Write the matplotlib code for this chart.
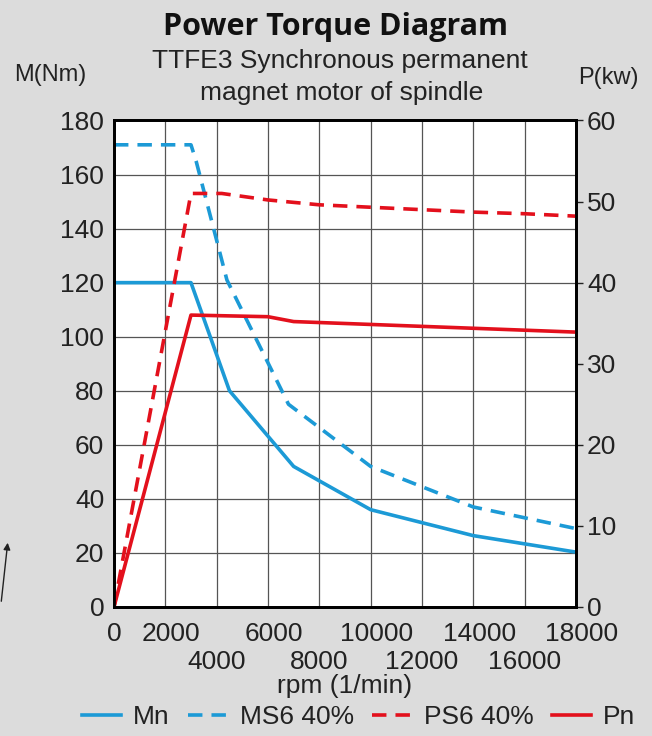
import matplotlib
matplotlib.use("Agg")
import matplotlib.pyplot as plt
from matplotlib.ticker import FixedLocator
from matplotlib.transforms import ScaledTranslation

plt.rcParams['font.family'] = ['Liberation Sans', 'DejaVu Sans']

# torque curves (Nm, left axis)
mn_rpm = [0, 3000, 4500, 7000, 10000, 14000, 18000]
mn_nm = [120, 120, 80, 52, 36, 26.4, 20.3]
ms6_rpm = [0, 3000, 3200, 4400, 6800, 10000, 14000, 18000]
ms6_nm = [171, 171, 165, 121, 75, 52, 37, 29]

# power curves (kW, right axis)
ps6_rpm = [0, 3000, 4200, 6000, 8000, 10000, 12000, 14000, 16000, 18000]
ps6_kw = [0, 51, 51, 50.2, 49.6, 49.3, 49.0, 48.7, 48.5, 48.2]
pn_rpm = [0, 3000, 6000, 7000, 18000]
pn_kw = [0, 36, 35.8, 35.2, 33.9]

# rpm labels are staggered on two rows
x_ticks_top = [0, 2000, 6000, 10000, 14000, 18000]
x_ticks_low = [4000, 8000, 12000, 16000]
m_ticks = list(range(0, 181, 20))
p_ticks = list(range(0, 61, 10))

blue = '#1c9ad6'
red = '#e3101c'
bg = '#dcdcdc'
txt = '#222222'

fig = plt.figure(figsize=(6.52, 7.36), dpi=100, facecolor=bg)
ax = fig.add_axes([0.1748, 0.1753, 0.7086, 0.661])
ax.set_facecolor('white')

l_mn, = ax.plot(mn_rpm, mn_nm, color=blue, lw=2.6, label='Mn')
l_ms6, = ax.plot(ms6_rpm, ms6_nm, color=blue, lw=2.6, ls=(0, (4, 2.5)), label='MS6 40%')
ax.set_xlim(0, 18000)
ax.set_ylim(0, 180)
ax.xaxis.set_major_locator(FixedLocator(x_ticks_top))
ax.xaxis.set_minor_locator(FixedLocator(x_ticks_low))
ax.set_xticklabels([str(v) for v in x_ticks_top])
ax.set_xticklabels([str(v) for v in x_ticks_low], minor=True)
ax.yaxis.set_major_locator(FixedLocator(m_ticks))
ax.grid(True, which='both', color='#555555', lw=0.9)
ax.tick_params(axis='both', which='both', length=0, labelsize=19, colors=txt, pad=7)
ax.tick_params(axis='x', which='major', pad=11)
ax.tick_params(axis='x', which='minor', pad=31)

# upper row of rpm labels sits a little right of its grid line
shift = ScaledTranslation(6 / 100, 0, fig.dpi_scale_trans)
for lab in ax.get_xticklabels()[1:]:
    lab.set_transform(lab.get_transform() + shift)

ax2 = ax.twinx()
l_ps6, = ax2.plot(ps6_rpm, ps6_kw, color=red, lw=2.6, ls=(0, (4, 2.5)), label='PS6 40%')
l_pn, = ax2.plot(pn_rpm, pn_kw, color=red, lw=2.6, label='Pn')
ax2.set_ylim(0, 60)
ax2.yaxis.set_major_locator(FixedLocator(p_ticks))
ax2.tick_params(axis='y', length=5, width=1, direction='out', labelsize=19, colors=txt, pad=3)

for a in (ax, ax2):
    for s in a.spines.values():
        s.set_linewidth(2)
        s.set_color('black')

ax.set_xlabel('rpm (1/min)', fontsize=19, color=txt, labelpad=0)

fig.text(0.514, 0.9524, 'Power Torque Diagram', ha='center', va='baseline',
         fontsize=22, fontweight='bold', family=['Open Sans', 'DejaVu Sans'], color='#111111')
fig.text(0.522, 0.9072, 'TTFE3 Synchronous permanent', ha='center', va='baseline', fontsize=19, color=txt)
fig.text(0.524, 0.864, 'magnet motor of spindle', ha='center', va='baseline', fontsize=19, color=txt)
fig.text(0.077, 0.898, 'M(Nm)', ha='center', va='center', fontsize=17, color=txt)
fig.text(0.933, 0.894, 'P(kw)', ha='center', va='center', fontsize=17, color=txt)

# small cropped arrow at the left edge of the scan
ax.annotate('', xy=(8, 196), xytext=(1, 132), xycoords='figure pixels', textcoords='figure pixels',
            arrowprops=dict(arrowstyle='-|>', color='#222222', lw=1, mutation_scale=10),
            annotation_clip=False)

fig.legend(handles=[l_mn, l_ms6, l_ps6, l_pn], loc='center', bbox_to_anchor=(0.55, 0.026),
           ncol=4, frameon=False, fontsize=19, handlelength=1.5, handletextpad=0.45,
           columnspacing=0.7, labelcolor=txt)

fig.savefig('out.png', dpi=100, facecolor=bg)
